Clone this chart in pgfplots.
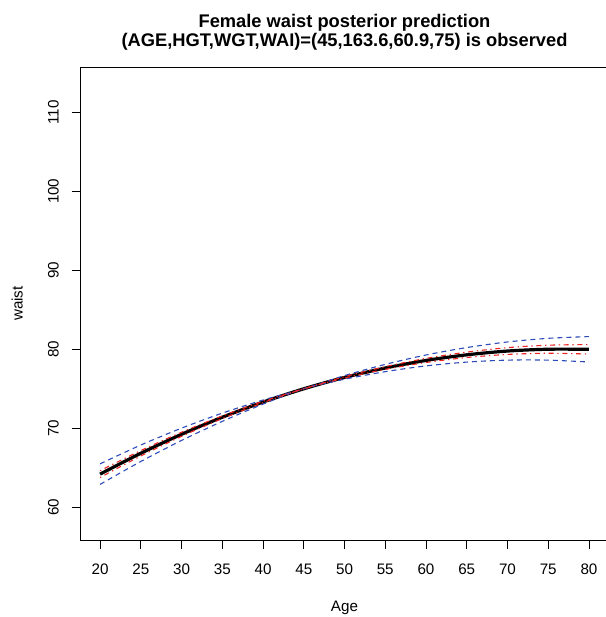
\documentclass[border=0pt]{standalone}
\usepackage{pgfplots}
\pgfplotsset{compat=1.18}
\usepackage{fontspec}
\setmainfont{Liberation Sans}

\definecolor{bandblue}{RGB}{45,75,185}
\definecolor{bandred}{RGB}{235,35,35}

% posterior mean and two bands, age 20..80
\pgfplotstableread{
age  mean   blo    bhi    rlo    rhi
20   64.20  62.90  65.50  63.77  64.63
25   66.84  65.80  67.88  66.50  67.18
30   69.24  68.46  70.02  68.98  69.50
35   71.40  70.88  71.92  71.23  71.57
40   73.32  73.06  73.58  73.24  73.41
45   75.00  75.00  75.00  75.00  75.00
50   76.44  76.21  76.67  76.36  76.53
55   77.63  77.17  78.09  77.46  77.80
60   78.59  77.90  79.28  78.33  78.85
65   79.30  78.38  80.22  78.96  79.64
70   79.78  78.63  80.93  79.35  80.21
75   80.01  78.63  81.39  79.50  80.52
80   80.00  78.39  81.61  79.40  80.60
}\waist

\begin{document}
\begin{tikzpicture}
\begin{axis}[
    at={(0,0)}, anchor=south west,
    scale only axis,
    width=528pt, height=472.7pt,
    xmin=17.6, xmax=82.4,
    ymin=55.86, ymax=115.7,
    xtick={20,25,...,80},
    ytick={60,70,...,110},
    tick pos=left,
    tick align=outside,
    major tick length=9pt,
    every tick/.style={black, line width=0.8pt},
    axis line style={line width=0.9pt},
    ticklabel style={font=\fontsize{15.2}{18}\selectfont},
    /pgf/number format/assume math mode=true,
    xticklabel style={anchor=base},
    xticklabel shift=25.5pt,
    yticklabel style={rotate=90, anchor=base},
    yticklabel shift=13pt,
    clip=false,
]
\addplot[black, line width=3.2pt, smooth] table[x=age, y=mean] {\waist};
\addplot[bandblue, line width=1.1pt, smooth, dash pattern=on 5pt off 4pt] table[x=age, y=bhi] {\waist};
\addplot[bandblue, line width=1.1pt, smooth, dash pattern=on 5pt off 4pt] table[x=age, y=blo] {\waist};
\addplot[bandred, line width=1.1pt, smooth, dash pattern=on 1.3pt off 3.7pt on 5pt off 3.7pt] table[x=age, y=rhi] {\waist};
\addplot[bandred, line width=1.1pt, smooth, dash pattern=on 1.3pt off 3.7pt on 5pt off 3.7pt] table[x=age, y=rlo] {\waist};
\end{axis}
% titles and axis labels
\node[anchor=base, font=\fontsize{18.3}{22}\selectfont\bfseries] at (264pt,512.3pt) {Female waist posterior prediction};
\node[anchor=base, font=\fontsize{18.3}{22}\selectfont\bfseries] at (264pt,493pt) {(AGE,HGT,WGT,WAI)=(45,163.6,60.9,75) is observed};
\node[anchor=base, font=\fontsize{15.2}{18}\selectfont] at (264pt,-71pt) {Age};
\node[anchor=base, rotate=90, font=\fontsize{15.2}{18}\selectfont] at (-58pt,236.35pt) {waist};
\pgfresetboundingbox
\path[use as bounding box] (-80.5pt,-77pt) rectangle (524.5pt,540pt);
\end{tikzpicture}
\end{document}
